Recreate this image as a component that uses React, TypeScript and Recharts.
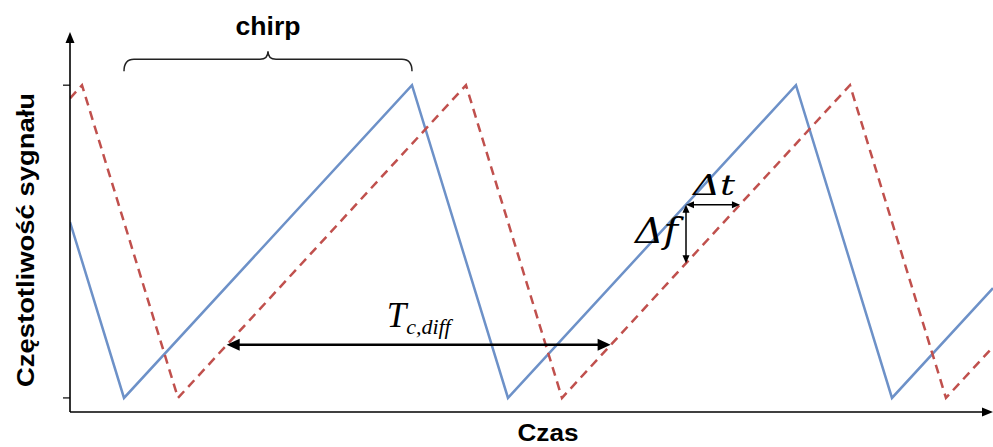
import { LineChart, Line, XAxis, YAxis, ReferenceLine, Label } from "recharts";

// vertices of the two sawtooth chirps (time in chirp units, freq normalised 0..1)
const blueTime = [0, 0.5625, 3.5625, 4.5625, 7.5625, 8.5625, 9.615];
const blueFreq = [0.5625, 0, 1, 0, 1, 0, 0.351];
const redTime = [0, 0.125, 1.125, 4.125, 5.125, 8.125, 9.125, 9.615];
const redFreq = [0.958, 1, 0, 1, 0, 1, 0, 0.163];
const freqTicks = [0, 1];

// annotation anchors
const chirpSpan = [0.5625, 3.5625];
const chirpLevel = 1.083;
const tcSpan = [1.632, 5.632];
const tcLevel = 0.17;
const dtSpan = [6.417, 6.979];
const dfSpan = [0.618, 0.431];

const tMax = 9.615;
const fMin = -0.045;
const fMax = 1.17;

const blueData = blueTime.map((t, i) => ({ t, f: blueFreq[i] }));
const redData = redTime.map((t, i) => ({ t, f: redFreq[i] }));

const SANS = "'Liberation Sans', Arial, sans-serif";
const SERIF = "'Liberation Serif', 'Times New Roman', serif";
const MATH = "'DejaVu Serif', serif";

function head(x: number, y: number, ux: number, uy: number, len: number, wid: number) {
  const bx = x - ux * len;
  const by = y - uy * len;
  const px = (-uy * wid) / 2;
  const py = (ux * wid) / 2;
  return `${x},${y} ${bx + px},${by + py} ${bx - px},${by - py}`;
}

function arrow(p: any, len: number, wid: number, both: boolean, sw: number) {
  const { x1, y1, x2, y2 } = p;
  const d = Math.hypot(x2 - x1, y2 - y1) || 1;
  const ux = (x2 - x1) / d;
  const uy = (y2 - y1) / d;
  const sx = both ? x1 + ux * len * 0.8 : x1;
  const sy = both ? y1 + uy * len * 0.8 : y1;
  return (
    <g>
      <line x1={sx} y1={sy} x2={x2 - ux * len * 0.8} y2={y2 - uy * len * 0.8} stroke="#000" strokeWidth={sw} />
      <polygon points={head(x2, y2, ux, uy, len, wid)} fill="#000" />
      {both && <polygon points={head(x1, y1, -ux, -uy, len, wid)} fill="#000" />}
    </g>
  );
}

function Brace(p: any) {
  const { x1, x2, y1: y } = p;
  const cx = (x1 + x2) / 2;
  const d = `M${x1},${y + 12} Q${x1},${y} ${x1 + 10},${y} L${cx - 8},${y} Q${cx},${y} ${cx},${y - 8} Q${cx},${y} ${cx + 8},${y} L${x2 - 10},${y} Q${x2},${y} ${x2},${y + 12}`;
  return (
    <g>
      <path d={d} fill="none" stroke="#222" strokeWidth={1.5} />
      <text x={cx} y={y - 24} textAnchor="middle" fontFamily={SANS} fontWeight="bold" fontSize={25} textLength={65} lengthAdjust="spacingAndGlyphs" fill="#000">
        chirp
      </text>
    </g>
  );
}

function TcArrow(p: any) {
  return (
    <g>
      {arrow(p, 13, 12, true, 2.5)}
      <text x={p.x1 + 160} y={p.y1 - 18} fontFamily={SERIF} fontStyle="italic" fill="#000">
        <tspan fontSize={35}>T</tspan>
        <tspan fontSize={22} dy={7}>c,diff</tspan>
      </text>
    </g>
  );
}

function DtArrow(p: any) {
  return (
    <g>
      {arrow(p, 8, 7, true, 1.5)}
      <text x={p.x1 + 7} y={p.y1 - 10} fontFamily={MATH} fontStyle="italic" fontSize={28} textLength={42} lengthAdjust="spacingAndGlyphs" fill="#000">
        Δt
      </text>
    </g>
  );
}

function DfArrow(p: any) {
  return (
    <g>
      {arrow(p, 8, 7, true, 1.5)}
      <text x={p.x1 - 51} y={p.y1 + 38} fontFamily={MATH} fontStyle="italic" fontSize={35} textLength={43} lengthAdjust="spacingAndGlyphs" fill="#000">
        Δf
      </text>
    </g>
  );
}

function AxisArrow(p: any) {
  return arrow(p, 11, 9, false, 1.6);
}

function YTitle() {
  return (
    <text x={34} y={240} transform="rotate(-90 34 240)" textAnchor="middle" fontFamily={SANS} fontWeight="bold" fontSize={24} textLength={294} lengthAdjust="spacingAndGlyphs" fill="#000">
      Częstotliwość sygnału
    </text>
  );
}

function XTitle() {
  return (
    <text x={548} y={441} textAnchor="middle" fontFamily={SANS} fontWeight="bold" fontSize={23} textLength={61} lengthAdjust="spacingAndGlyphs" fill="#000">
      Czas
    </text>
  );
}

export default function App() {
  return (
    <div style={{ position: "absolute", left: 0, top: 0, background: "#fff" }}>
      <LineChart width={993} height={447} margin={{ top: 32, right: 0, bottom: 0, left: 0 }}>
        <XAxis
          type="number"
          dataKey="t"
          domain={[0, tMax]}
          allowDataOverflow
          height={35}
          axisLine={false}
          tickLine={false}
          tick={false}
        >
          <Label content={XTitle} />
        </XAxis>
        <YAxis
          type="number"
          dataKey="f"
          domain={[fMin, fMax]}
          allowDataOverflow
          ticks={freqTicks}
          width={70}
          axisLine={false}
          tickSize={7}
          tickLine={{ stroke: "#000", strokeWidth: 1.2 }}
          tickFormatter={() => ""}
        >
          <Label content={YTitle} />
        </YAxis>
        <Line data={blueData} dataKey="f" type="linear" stroke="#6D91C8" strokeWidth={2.5} dot={false} isAnimationActive={false} />
        <Line data={redData} dataKey="f" type="linear" stroke="#C0504D" strokeWidth={2.5} strokeDasharray="9 6" dot={false} isAnimationActive={false} />
        <ReferenceLine ifOverflow="visible" segment={[{ x: 0, y: fMin }, { x: 0, y: fMax }]} shape={AxisArrow} />
        <ReferenceLine ifOverflow="visible" segment={[{ x: 0, y: fMin }, { x: tMax, y: fMin }]} shape={AxisArrow} />
        <ReferenceLine ifOverflow="visible" segment={[{ x: chirpSpan[0], y: chirpLevel }, { x: chirpSpan[1], y: chirpLevel }]} shape={Brace} />
        <ReferenceLine ifOverflow="visible" segment={[{ x: tcSpan[0], y: tcLevel }, { x: tcSpan[1], y: tcLevel }]} shape={TcArrow} />
        <ReferenceLine ifOverflow="visible" segment={[{ x: dtSpan[0], y: dfSpan[0] }, { x: dtSpan[1], y: dfSpan[0] }]} shape={DtArrow} />
        <ReferenceLine ifOverflow="visible" segment={[{ x: dtSpan[0], y: dfSpan[0] }, { x: dtSpan[0], y: dfSpan[1] }]} shape={DfArrow} />
      </LineChart>
    </div>
  );
}
